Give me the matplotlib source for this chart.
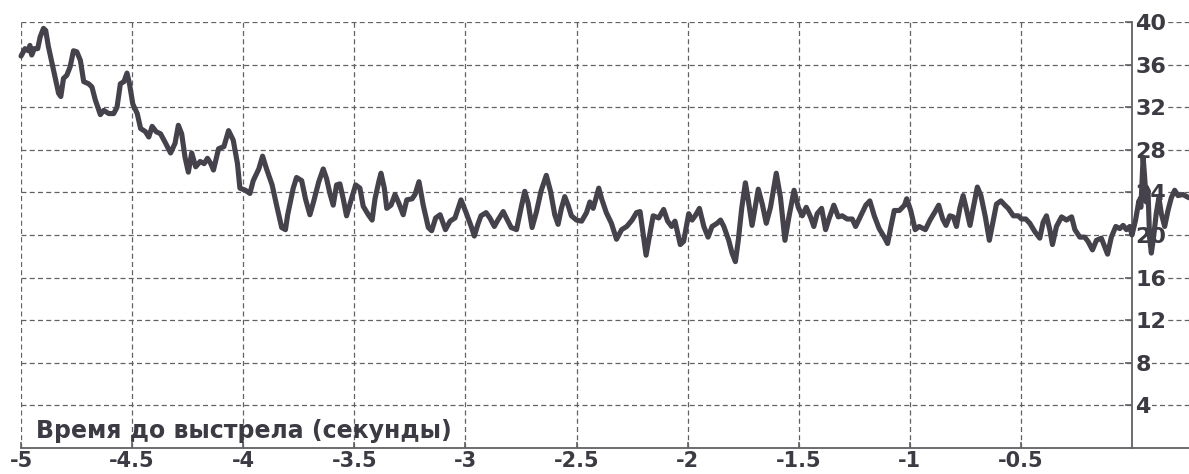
import matplotlib
matplotlib.use("Agg")
import matplotlib.pyplot as plt

# Time before the shot (seconds) and the measured signal
time_s = [
    -5.000, -4.982, -4.967, -4.960, -4.952, -4.940, -4.925, -4.914, -4.899, -4.889,
    -4.877, -4.854, -4.831, -4.821, -4.809, -4.794, -4.779, -4.764, -4.749, -4.733,
    -4.718, -4.696, -4.681, -4.666, -4.643, -4.628, -4.605, -4.583, -4.568, -4.553,
    -4.537, -4.523, -4.512, -4.497, -4.477, -4.462, -4.440, -4.425, -4.410, -4.392,
    -4.372, -4.349, -4.327, -4.307, -4.292, -4.277, -4.262, -4.247, -4.232, -4.214,
    -4.194, -4.176, -4.161, -4.146, -4.134, -4.111, -4.087, -4.066, -4.045, -4.026,
    -4.015, -3.990, -3.970, -3.955, -3.930, -3.913, -3.895, -3.870, -3.850, -3.827,
    -3.810, -3.800, -3.775, -3.760, -3.737, -3.720, -3.700, -3.685, -3.660, -3.640,
    -3.625, -3.610, -3.595, -3.580, -3.565, -3.550, -3.535, -3.510, -3.494, -3.475,
    -3.460, -3.437, -3.420, -3.407, -3.390, -3.380, -3.365, -3.354, -3.335, -3.317,
    -3.300, -3.280, -3.264, -3.240, -3.227, -3.209, -3.190, -3.167, -3.152, -3.134,
    -3.114, -3.090, -3.069, -3.047, -3.020,
    -2.997, -2.974, -2.960, -2.944, -2.930, -2.907, -2.890, -2.870, -2.854, -2.830,
    -2.816, -2.794, -2.770, -2.750, -2.733, -2.718, -2.700, -2.680, -2.660, -2.636,
    -2.617, -2.598, -2.583, -2.568, -2.553, -2.538, -2.523, -2.500, -2.477, -2.455,
    -2.440, -2.425, -2.400, -2.387, -2.366, -2.343, -2.320, -2.297, -2.274, -2.250,
    -2.230, -2.214, -2.200, -2.187, -2.170, -2.155, -2.130, -2.108, -2.090, -2.072,
    -2.057, -2.033, -2.018,
    -1.995, -1.980, -1.966, -1.947, -1.927, -1.908, -1.890, -1.867, -1.852, -1.837,
    -1.815, -1.800, -1.785, -1.772, -1.756, -1.740, -1.728, -1.710, -1.697, -1.682,
    -1.664, -1.646, -1.627, -1.601, -1.582, -1.562, -1.544, -1.521, -1.502, -1.484,
    -1.466, -1.447, -1.432, -1.417, -1.397, -1.379, -1.364, -1.342, -1.322, -1.304,
    -1.282, -1.259, -1.244, -1.221, -1.198, -1.180, -1.160, -1.138, -1.115, -1.100,
    -1.085, -1.070, -1.047, -1.024, -1.014, -0.996, -0.976, -0.958,
    -0.930, -0.909, -0.886, -0.870, -0.852, -0.837, -0.820, -0.804, -0.790, -0.774,
    -0.760, -0.744, -0.729, -0.714, -0.696, -0.680, -0.660, -0.642, -0.627, -0.610,
    -0.590, -0.572, -0.557, -0.534, -0.512, -0.497, -0.478, -0.460, -0.437, -0.415,
    -0.400, -0.385, -0.370, -0.358, -0.340, -0.317, -0.295, -0.272, -0.257, -0.235,
    -0.213, -0.198, -0.178, -0.160, -0.138, -0.123, -0.110, -0.093, -0.073, -0.055,
    -0.040, -0.025, -0.010, 0.000, 0.016, 0.031, 0.040, 0.050, 0.057, 0.064,
    0.072, 0.079, 0.087, 0.097, 0.109, 0.121, 0.132, 0.147, 0.162, 0.177,
    0.192, 0.207, 0.229, 0.256,
]
signal = [
    36.8, 37.5, 37.3, 37.8, 36.9, 37.5, 37.5, 38.6, 39.4, 39.2,
    37.7, 35.5, 33.3, 33.0, 34.7, 35.0, 35.8, 37.3, 37.2, 36.4,
    34.4, 34.2, 33.9, 32.7, 31.3, 31.7, 31.4, 31.4, 32.0, 34.2,
    34.4, 35.2, 34.2, 32.3, 31.4, 30.0, 29.7, 29.2, 30.2, 29.7,
    29.5, 28.6, 27.7, 28.6, 30.3, 29.5, 27.3, 25.9, 27.7, 26.4,
    26.9, 26.7, 27.2, 26.7, 26.1, 28.1, 28.3, 29.8, 28.9, 26.7,
    24.4, 24.2, 23.9, 25.1, 26.2, 27.4, 26.2, 24.7, 22.8, 20.7,
    20.5, 21.9, 24.4, 25.4, 25.1, 23.4, 21.9, 23.0, 25.0, 26.2,
    25.3, 23.9, 22.8, 24.7, 24.8, 23.4, 21.8, 23.6, 24.7, 24.4,
    22.7, 21.9, 21.4, 23.4, 25.0, 25.8, 24.4, 22.5, 22.8, 23.8,
    23.0, 21.9, 23.3, 23.4, 23.8, 25.0, 22.8, 20.7, 20.4, 21.6,
    21.9, 20.5, 21.3, 21.6, 23.3,
    22.1, 20.8, 19.9, 21.0, 21.8, 22.1, 21.6, 20.8, 21.4, 22.2,
    21.6, 20.7, 20.5, 22.5, 24.1, 23.0, 20.7, 22.2, 24.1, 25.6,
    24.1, 21.9, 21.0, 22.5, 23.6, 22.8, 21.8, 21.4, 21.3, 22.1,
    23.1, 22.5, 24.4, 23.4, 22.1, 21.1, 19.6, 20.5, 20.8, 21.4,
    22.1, 22.2, 20.1, 18.1, 20.1, 21.8, 21.6, 22.4, 21.3, 20.8,
    21.3, 19.1, 19.4,
    22.0, 21.4, 21.8, 22.5, 20.8, 19.8, 20.8, 21.1, 21.4, 20.8,
    19.5, 18.3, 17.5, 19.5, 22.6, 24.9, 23.4, 20.9, 22.5, 24.3,
    22.9, 21.1, 22.6, 25.8, 23.5, 19.5, 21.7, 24.2, 22.6, 21.8,
    22.6, 21.7, 20.8, 22.0, 22.5, 20.5, 21.5, 22.8, 21.7, 21.8,
    21.5, 21.5, 20.8, 21.8, 22.8, 23.2, 21.8, 20.6, 19.8, 19.2,
    20.8, 22.3, 22.3, 22.8, 23.4, 22.3, 20.5, 20.8,
    20.5, 21.4, 22.2, 22.8, 21.5, 20.9, 21.8, 21.7, 20.8, 22.6,
    23.7, 22.3, 20.9, 22.6, 24.5, 23.7, 21.7, 19.5, 21.1, 22.9,
    23.2, 22.8, 22.5, 21.8, 21.8, 21.5, 21.5, 21.1, 20.3, 19.7,
    21.2, 21.8, 20.5, 19.1, 20.8, 21.7, 21.4, 21.7, 20.5, 19.8,
    19.8, 19.4, 18.6, 19.5, 19.7, 18.9, 18.2, 19.8, 20.8, 20.6,
    20.9, 20.5, 20.8, 20.0, 21.4, 23.2, 22.6, 27.3, 25.4, 23.1,
    24.2, 19.8, 18.3, 19.8, 22.0, 23.5, 22.0, 20.8, 22.3, 23.5,
    24.2, 23.7, 23.8, 23.5,
]

x_ticks = [-5, -4.5, -4, -3.5, -3, -2.5, -2, -1.5, -1, -0.5]
x_tick_labels = ["-5", "-4.5", "-4", "-3.5", "-3", "-2.5", "-2", "-1.5", "-1", "-0.5"]
y_ticks = [4, 8, 12, 16, 20, 24, 28, 32, 36, 40]
x_axis_title = "Время до выстрела (секунды)"

ink = "#46424c"
grid_c = "#616166"
text_c = "#3c3a42"

fig = plt.figure(figsize=(11.89, 4.74), dpi=100)
ax = fig.add_axes([0.0177, 0.0549, 0.9823, 0.8987])
ax.set_xlim(-5, 0.2565)
ax.set_ylim(0, 40)
ax.set_axisbelow(True)

ax.plot(time_s, signal, color=ink, lw=3.7, solid_joinstyle="round",
        solid_capstyle="round", zorder=3, clip_on=False)

# grid
ax.grid(True, color=grid_c, lw=0.9, linestyle=(0, (4, 2.6)))

# spines: bottom line and a y axis standing at t = 0
for side in ("top", "left"):
    ax.spines[side].set_visible(False)
ax.spines["bottom"].set_color(grid_c)
ax.spines["bottom"].set_linewidth(1.3)
ax.spines["right"].set_position(("data", 0))
ax.spines["right"].set_color(grid_c)
ax.spines["right"].set_linewidth(1.3)

ax.set_xticks(x_ticks)
ax.set_xticklabels(x_tick_labels)
ax.yaxis.tick_right()
ax.set_yticks(y_ticks)
ax.set_yticklabels([str(v) for v in y_ticks])

ax.tick_params(axis="x", direction="in", length=4, width=1.2, color=grid_c,
               pad=2, labelsize=15, labelcolor=text_c)
ax.tick_params(axis="y", direction="in", length=5, width=1.2, color=grid_c,
               pad=2.5, labelsize=16, labelcolor=text_c)
for lab in ax.get_xticklabels() + ax.get_yticklabels():
    lab.set_fontweight("bold")
for lab in ax.get_yticklabels():
    lab.set_bbox(dict(facecolor="white", edgecolor="none", pad=1.0))

ax.text(0.013, 0.012, x_axis_title, transform=ax.transAxes, ha="left",
        va="bottom", fontsize=17, fontweight="bold", color=text_c, zorder=1)

fig.savefig("out.png", dpi=100)
